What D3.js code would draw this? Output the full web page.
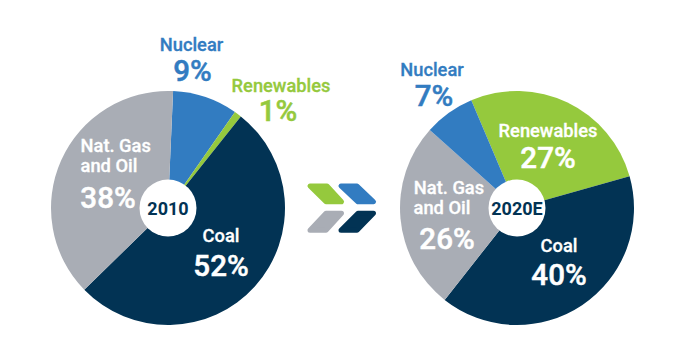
<!DOCTYPE html>
<html><head><meta charset="utf-8">
<script src="https://cdn.jsdelivr.net/npm/d3@7"></script>
<style>html,body{margin:0;background:#fff}svg{display:block}text{font-family:Roboto,sans-serif;font-weight:500;text-anchor:middle}</style>
</head><body><svg id="c" width="682" height="360"></svg>
<script>
const categories = ["Coal","Nat. Gas and Oil","Nuclear","Renewables"];
const values2010 = [52,38,9,1];
const values2020 = [40,26,7,27];
const colors = ["#023354","#a9adb5","#327cc1","#95c93d"];
const white="#fff";
const svg=d3.select("#c");
const color=d3.scaleOrdinal(categories,colors);
const deg=Math.PI/180;
function pie(cx,values,order,start,label){
  const g=svg.append("g").attr("transform",`translate(${cx},208)`);
  const data=order.map(c=>({c,v:values[categories.indexOf(c)]}));
  const arcs=d3.pie().sort(null).value(d=>d.v).startAngle(start*deg).endAngle((start+360)*deg)(data);
  const arc=d3.arc().innerRadius(0).outerRadius(117);
  g.selectAll("path").data(arcs).join("path").attr("d",arc).attr("fill",d=>color(d.data.c));
  g.append("circle").attr("r",28.5).attr("fill","#fff");
  g.append("text").attr("y",7).attr("font-size",18).attr("fill","#023354").style("font-weight",700).text(label);
}
pie(168,values2010,["Nuclear","Renewables","Coal","Nat. Gas and Oil"],2.5,"2010");
pie(517,values2020,["Renewables","Coal","Nat. Gas and Oil","Nuclear"],-23,"2020E");
function t(x,y,s,size,fill){svg.append("text").attr("x",x).attr("y",y).attr("font-size",size).attr("fill",fill).attr("stroke",fill).attr("stroke-width",size>20?0.5:0.3).text(s);}
const L=18.3,B=29.5;
t(191.5,51,"Nuclear",L,colors[2]); t(192.5,81,"9%",B,colors[2]);
t(281,92,"Renewables",L,colors[3]); t(278,120.5,"1%",B,colors[3]);
t(115.7,152,"Nat. Gas",L,white); t(109,172,"and Oil",L,white); t(108,208,"38%",B,white);
t(221,242,"Coal",L,white); t(221,275.5,"52%",B,white);
t(432,76,"Nuclear",L,colors[2]); t(434,106,"7%",B,colors[2]);
t(548,137,"Renewables",L,white); t(548,168,"27%",B,white);
t(449,194,"Nat. Gas",L,white); t(442,214,"and Oil",L,white); t(447,249,"26%",B,white);
t(559,252,"Coal",L,white); t(559,285,"40%",B,white);
const chevrons=[[[[310,186],[327,186],[341.5,201.8],[326,201.8]],colors[3]],
 [[[341,186],[357,186],[373.5,201.8],[358,201.8]],colors[2]],
 [[[326,213.2],[341.5,213.2],[326,230.2],[310,230.2]],colors[1]],
 [[[358,213.2],[373.5,213.2],[357,230.2],[341,230.2]],colors[0]]];
const line=d3.line().curve(d3.curveLinearClosed);
svg.selectAll("path.ch").data(chevrons).join("path").attr("class","ch").attr("d",d=>line(d[0])).attr("fill",d=>d[1]).attr("stroke",d=>d[1]).attr("stroke-width",5).attr("stroke-linejoin","round");
</script></body></html>
